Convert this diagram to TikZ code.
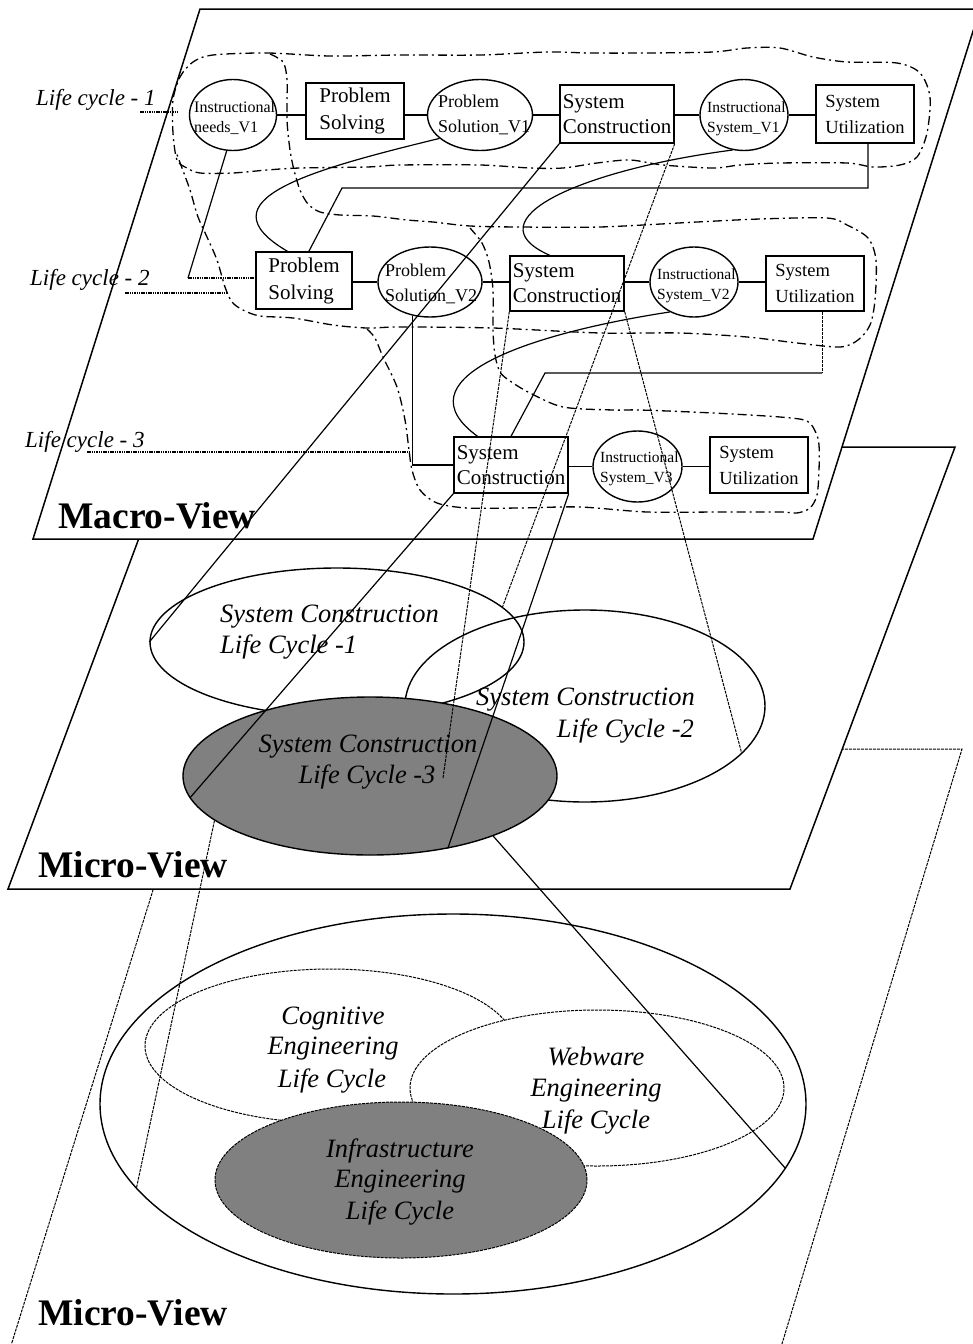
\documentclass[tikz,border=0pt]{standalone}
\usepackage{fontspec}
\setmainfont{Liberation Serif}
\usetikzlibrary{shapes.geometric,calc}
\definecolor{midgray}{RGB}{128,128,128}
\begin{document}
\begin{tikzpicture}[x=1pt,y=-1pt,
  plane/.style={draw, line width=1.5pt, fill=white},
  planedash/.style={draw, line width=1pt, dash pattern=on 3pt off 1pt, fill=white},
  psbox/.style={draw, rectangle, line width=1.4pt, inner sep=2pt, align=left, fill=white, font=\fontsize{21}{27}\selectfont},
  scbox/.style={psbox, font=\fontsize{21}{25}\selectfont},
  subox/.style={psbox, font=\fontsize{18.5}{26}\selectfont},
  ellnode/.style={draw, ellipse, line width=1.4pt, inner sep=0pt, fill=white},
  etext/.style={inner sep=0pt, align=left, anchor=west},
  isfont/.style={font=\fontsize{15.5}{19.5}\selectfont},
  psvfont/.style={font=\fontsize{18}{25}\selectfont},
  conn/.style={line width=1.2pt},
  fdash/.style={line width=1pt, dash pattern=on 3pt off 1pt},
  leader/.style={line width=1.4pt, dash pattern=on 1.5pt off 0.8pt},
  lcbound/.style={line width=1.3pt, dash pattern=on 9pt off 4pt on 2pt off 4pt},
  lclabel/.style={inner sep=0pt, font=\itshape\fontsize{23}{27}\selectfont},
  viewlabel/.style={inner sep=0pt, font=\bfseries\fontsize{37.5}{40}\selectfont},
  mtext/.style={inner sep=0pt, font=\itshape\fontsize{26.5}{31}\selectfont},
  bigell/.style={draw, ellipse, line width=1.4pt, inner sep=0pt},
  dashell/.style={draw, ellipse, line width=1pt, dash pattern=on 3pt off 1pt, inner sep=0pt}
]
\useasboundingbox (0,0) rectangle (973,1344);
\clip (0,0) rectangle (973,1344);

% planes
\draw[planedash] (197,749) -- (962,749) -- (765,1400) -- (-6,1400) -- cycle;
\draw[plane] (173,447) -- (955,447) -- (790,889) -- (8,889) -- cycle;
\draw[plane] (200,9) -- (980,9) -- (813,539) -- (33,539) -- cycle;

% life cycle boundaries
\draw[lcbound] plot[smooth cycle, tension=0.5] coordinates {(213,55) (267,53) (330,56) (400,55) (480,55) (547,52) (590,53) (647,53) (713,52) (747,48) (780,48) (813,57) (847,62) (897,63) (920,73) (930,97) (927,133) (917,157) (900,165) (873,167) (847,163) (780,163) (740,165) (713,168) (663,165) (630,160) (597,163) (563,168) (530,168) (480,165) (400,165) (367,167) (300,168) (267,170) (233,173) (200,173) (187,168) (177,160) (173,133) (173,100) (180,77) (193,62)};
\draw[lcbound] plot[smooth, tension=0.5] coordinates {(270,54) (283,62) (287,80) (287,120) (290,150) (294,170) (300,190) (308,204) (320,212) (340,215) (373,216) (407,220) (433,222) (470,226) (520,227) (600,227) (697,222) (760,219) (827,218) (847,225) (868,238) (876,260) (875,300) (870,325) (858,340) (840,347) (797,343) (747,337) (680,333) (600,333) (493,328) (400,327) (367,328) (333,325) (293,318) (260,316) (243,310) (232,302) (225,287) (217,260) (207,237) (198,217) (190,190) (182,168) (176,152)};
\draw[lcbound] plot[smooth, tension=0.5] coordinates {(367,329) (375,338) (383,357) (397,387) (405,420) (409,450) (412,470) (420,490) (437,503) (467,508) (520,508) (580,507) (647,512) (720,512) (780,512) (797,513) (810,508) (817,495) (819,470) (819,445) (816,433) (807,421) (780,417) (713,413) (640,410) (613,410) (563,407) (530,393) (510,381) (500,372) (495,355) (493,330) (493,290) (489,262) (482,243) (470,228)};

% macro nodes, row 1
\node[ellnode, minimum width=87, minimum height=71] (e1) at (233,115) {};
\node[psbox, minimum width=98, minimum height=56] (ps1) at (355,111) {Problem\\Solving};
\node[ellnode, minimum width=105, minimum height=71] (psv1) at (480,115) {};
\node[scbox, minimum width=114, minimum height=58] (sc1) at (617,114) {System\\Construction};
\node[ellnode, minimum width=88, minimum height=71] (isv1) at (744,115) {};
\node[subox, minimum width=98, minimum height=58] (su1) at (865,114) {System\\Utilization};
% row 2
\node[psbox, minimum width=96, minimum height=57] (ps2) at (304,280.5) {Problem\\Solving};
\node[ellnode, minimum width=104, minimum height=70] (psv2) at (430,282) {};
\node[scbox, minimum width=114, minimum height=55] (sc2) at (567,283.5) {System\\Construction};
\node[ellnode, minimum width=88, minimum height=70] (isv2) at (694,282) {};
\node[subox, minimum width=98, minimum height=55] (su2) at (815,283.5) {System\\Utilization};
% row 3
\node[scbox, minimum width=114, minimum height=56] (sc3) at (511,465) {System\\Construction};
\node[ellnode, minimum width=89, minimum height=71] (isv3) at (637.5,466.5) {};
\node[subox, minimum width=98, minimum height=56] (su3) at (759,465) {System\\Utilization};

% ellipse texts
\node[etext, font=\fontsize{16}{20}\selectfont] (e1t) at (194,118) {Instructional\\needs\_V1};
\node[etext, psvfont] (psv1t) at (438,115) {Problem\\Solution\_V1};
\node[etext, isfont] (isv1t) at (707,119) {Instructional\\System\_V1};
\node[etext, psvfont] (psv2t) at (385,284) {Problem\\Solution\_V2};
\node[etext, isfont] (isv2t) at (657,286) {Instructional\\System\_V2};
\node[etext, isfont] (isv3t) at (600,469) {Instructional\\System\_V3};

% life cycle labels and leaders
\node[lclabel, anchor=base west] (lc1) at (36,105) {Life cycle - 1};
\node[lclabel, anchor=base west] (lc2) at (30,285) {Life cycle - 2};
\node[lclabel, anchor=base west] (lc3) at (25,447) {Life cycle - 3};
\coordinate (ld1a) at (140,112); \coordinate (ld1b) at (177,112);
\coordinate (ld2a) at (125,293); \coordinate (ld2b) at (228,293);
\coordinate (ld3a) at (87,452);  \coordinate (ld3b) at (410,452);
\draw[leader] (ld1a) -- (ld1b);
\draw[leader] (ld2a) -- (ld2b);
\draw[leader] (ld3a) -- (ld3b);

% view labels
\node[viewlabel, anchor=base west] (macro) at (58,528) {Macro-View};
\node[viewlabel, anchor=base west] (micro1) at (38,877) {Micro-View};
\node[viewlabel, anchor=base west] (micro2) at (38,1325) {Micro-View};

% middle micro view ellipses
\node[bigell, minimum width=374, minimum height=148] (scl1) at (337,642) {};
\node[bigell, minimum width=360, minimum height=192] (scl2) at (585,706) {};
\node[bigell, fill=midgray, minimum width=374, minimum height=158] (scl3) at (370,776) {};
\node[mtext, anchor=base west] (t1a) at (220,622) {System Construction};
\node[mtext, anchor=base west] (t1b) at (220,653) {Life Cycle -1};
\node[mtext, anchor=base east] (t2a) at (695,705) {System Construction};
\node[mtext, anchor=base east] (t2b) at (694,737) {Life Cycle -2};
\node[mtext, anchor=base] (t3a) at (368,752) {System Construction};
\node[mtext, anchor=base] (t3b) at (367,783) {Life Cycle -3};

% bottom micro view ellipses
\node[bigell, minimum width=706, minimum height=380] (outer) at (453,1104) {};
\node[dashell, minimum width=370, minimum height=154] (cog) at (330,1046) {};
\node[dashell, fill=white, minimum width=374, minimum height=156] (web) at (597,1088) {};
\node[dashell, fill=midgray, minimum width=372, minimum height=156] (infra) at (401,1180) {};
\node[mtext, anchor=base] (c1t) at (333,1024) {Cognitive};
\node[mtext, anchor=base] (c2t) at (333,1054) {Engineering};
\node[mtext, anchor=base] (c3t) at (332,1087) {Life Cycle};
\node[mtext, anchor=base] (w1t) at (596,1065) {Webware};
\node[mtext, anchor=base] (w2t) at (596,1096) {Engineering};
\node[mtext, anchor=base] (w3t) at (596,1128) {Life Cycle};
\node[mtext, anchor=base] (i1t) at (400,1157) {Infrastructure};
\node[mtext, anchor=base] (i2t) at (400,1187) {Engineering};
\node[mtext, anchor=base] (i3t) at (400,1219) {Life Cycle};

% row connectors
\draw[conn] (e1.east) -- (e1.east -| ps1.west);
\draw[conn] (psv1.west -| ps1.east) -- (psv1.west);
\draw[conn] (psv1.east) -- (psv1.east -| sc1.west);
\draw[conn] (isv1.west -| sc1.east) -- (isv1.west);
\draw[conn] (isv1.east) -- (isv1.east -| su1.west);
\draw[conn] (psv2.west -| ps2.east) -- (psv2.west);
\draw[conn] (psv2.east) -- (psv2.east -| sc2.west);
\draw[conn] (isv2.west -| sc2.east) -- (isv2.west);
\draw[conn] (isv2.east) -- (isv2.east -| su2.west);
\draw[conn] (isv3.west -| sc3.east) -- (isv3.west);
\draw[conn] (isv3.east) -- (isv3.east -| su3.west);

% cross-row connectors
\coordinate (c1) at (188,278);
\coordinate (k1) at (342,188);
\coordinate (k2) at (545,373);
\coordinate (su1b) at ($(su1.south)+(3,0)$);
\coordinate (su2b) at ($(su2.south)+(7,0)$);
\draw[conn] (e1.-100) -- (c1);
\draw[leader] (c1) -- (c1 -| ps2.west);
\draw[conn] (psv1.210) .. controls (310,170) and (200,200) .. ($(ps2.north west)!0.33!(ps2.north east)$);
\draw[conn] (su1b) -- (su1b |- k1) -- (k1) -- ($(ps2.north west)!0.55!(ps2.north east)$);
\draw[conn] (isv1.252) .. controls (580,170) and (470,220) .. ($(sc2.north west)!0.35!(sc2.north east)$);
\draw[conn] (psv2.243) |- (sc3.west);
\draw[conn] (isv2.231) .. controls (520,335) and (400,380) .. ($(sc3.north west)!0.21!(sc3.north east)$);
\draw[fdash] (su2b) -- (su2b |- k2);
\draw[conn] (su2b |- k2) -- (k2) -- (sc3.north);

% long lines between views
\coordinate (l3end) at (443,778);
\draw[conn] (sc1.south west) -- (scl1.west);
\draw[fdash] (sc1.south east) -- (scl1.12);
\draw[fdash] (sc2.south west) -- (l3end);
\draw[fdash] (sc2.south east) -- (scl2.-17);
\draw[conn] (sc3.south west) -- (scl3.187);
\draw[conn] (sc3.south east) -- (scl3.-43);
\draw[fdash] (scl3.196) -- (outer.195);
\draw[conn] (scl3.-26) -- (outer.-11);
\end{tikzpicture}
\end{document}
